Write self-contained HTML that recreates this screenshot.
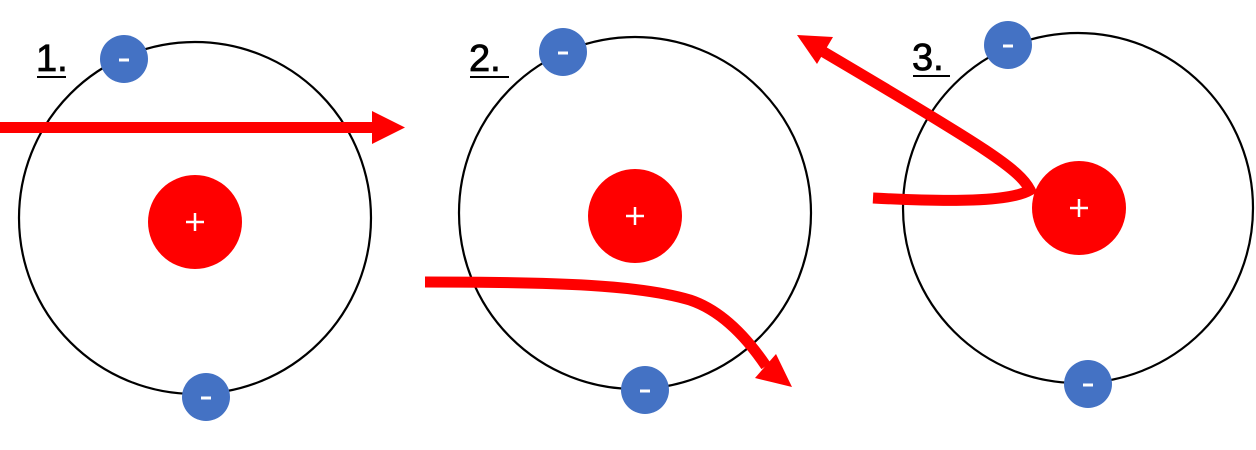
<!DOCTYPE html>
<html><head><meta charset="utf-8"><style>
html,body{margin:0;padding:0;background:#fff;}
svg{display:block;}
text{font-family:"Liberation Sans",sans-serif;}
</style></head><body>
<svg width="1256" height="450" viewBox="0 0 1256 450" xmlns="http://www.w3.org/2000/svg">
<g fill="none" stroke="#000" stroke-width="2.2">
<circle cx="195" cy="218" r="176"/>
<circle cx="635" cy="213" r="176"/>
<circle cx="1078" cy="208" r="175"/>
</g>
<g fill="#ff0000">
<circle cx="195" cy="222" r="47"/>
<circle cx="635" cy="216" r="47"/>
<circle cx="1079" cy="208" r="47"/>
</g>
<g stroke="#fff" stroke-width="2.5">
<line x1="186" y1="222" x2="204" y2="222"/><line x1="195" y1="213" x2="195" y2="231"/>
<line x1="626" y1="216" x2="644" y2="216"/><line x1="635" y1="207" x2="635" y2="225"/>
<line x1="1070" y1="208" x2="1088" y2="208"/><line x1="1079" y1="199" x2="1079" y2="217"/>
</g>
<g fill="#4472c4">
<circle cx="124" cy="59" r="24"/>
<circle cx="206" cy="397" r="24"/>
<circle cx="563" cy="52" r="24"/>
<circle cx="645" cy="390" r="24"/>
<circle cx="1008" cy="45" r="24"/>
<circle cx="1088" cy="384" r="24"/>
</g>
<g stroke="#fff" stroke-width="3">
<line x1="119" y1="60" x2="129" y2="60"/>
<line x1="201" y1="398" x2="211" y2="398"/>
<line x1="558" y1="53" x2="568" y2="53"/>
<line x1="640" y1="391" x2="650" y2="391"/>
<line x1="1003" y1="46" x2="1013" y2="46"/>
<line x1="1083" y1="385" x2="1093" y2="385"/>
</g>
<g font-size="38" fill="#000" stroke="#000" stroke-width="0.8">
<text x="36" y="71">1.</text>
<text x="469" y="71">2.</text>
<text x="912" y="70">3.</text>
</g>
<g stroke="#000" stroke-width="2">
<line x1="37" y1="77" x2="66" y2="77"/>
<line x1="470" y1="77" x2="509" y2="77"/>
<line x1="913" y1="76" x2="950" y2="76"/>
</g>
<rect x="0" y="122" width="374" height="11" fill="#ff0000"/>
<polygon points="372,111 405,127.5 372,144" fill="#ff0000"/>
<path d="M425,282 C560,282 640,285 690,300 C720,310 745,335 766,366" fill="none" stroke="#ff0000" stroke-width="11"/>
<polygon points="755,378 776,354 792,387" fill="#ff0000"/>
<path d="M873,198 C950,202 1010,202 1030,190 C1020,170 990,150 822,51" fill="none" stroke="#ff0000" stroke-width="11"/>
<polygon points="797,35 833,37 817,64" fill="#ff0000"/>
</svg>
</body></html>
